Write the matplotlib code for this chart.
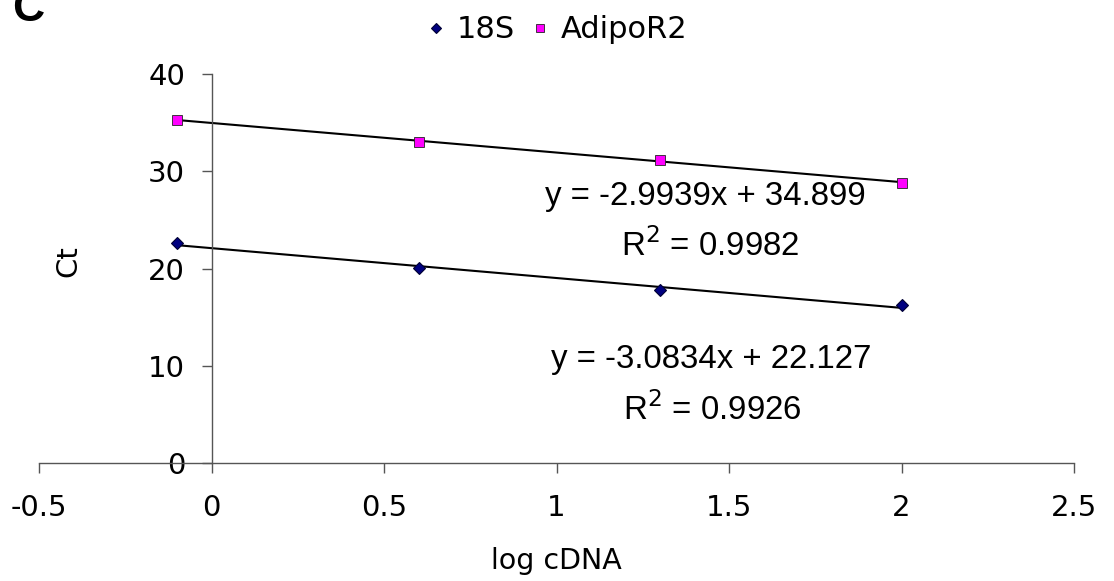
import numpy as np
import matplotlib
matplotlib.use("Agg")
import matplotlib.pyplot as plt

plt.rcParams["font.family"] = ["DejaVu Sans"]

# log cDNA dilution points and Ct values
log_cdna = [-0.1, 0.6, 1.3, 2.0]
ct_18s = [22.6, 20.1, 17.8, 16.2]
ct_adipor2 = [35.3, 33.0, 31.2, 28.8]

eq_18s = "y = -3.0834x + 22.127"
r2_18s = "R$^2$ = 0.9926"
eq_adipo = "y = -2.9939x + 34.899"
r2_adipo = "R$^2$ = 0.9982"

xticks = [-0.5, 0, 0.5, 1, 1.5, 2, 2.5]
xticklabels = ["-0.5", "0", "0.5", "1", "1.5", "2", "2.5"]
yticks = [0, 10, 20, 30, 40]

fig = plt.figure(figsize=(11.14, 5.81), dpi=100)
ax = fig.add_axes([39 / 1114, 118 / 581, 1035 / 1114, 389 / 581])

x = np.array(log_cdna)
for vals in (ct_18s, ct_adipor2):
    slope, icpt = np.polyfit(x, vals, 1)
    ax.plot(x, slope * x + icpt, color="black", lw=1.5, zorder=2)

ax.plot(log_cdna, ct_18s, ls="none", marker="D", ms=6.5, color="#000080",
        mec="#000033", mew=0.8, label="18S", zorder=3)
ax.plot(log_cdna, ct_adipor2, ls="none", marker="s", ms=7, color="#ff00ff",
        mec="#222222", mew=0.6, label="AdipoR2", zorder=3)

ax.set_xlim(-0.5, 2.5)
ax.set_ylim(0, 40)
ax.set_xticks(xticks)
ax.set_xticklabels(xticklabels)
ax.set_yticks(yticks)

for s in ("top", "right"):
    ax.spines[s].set_visible(False)
ax.spines["left"].set_position(("data", 0))
ax.spines["bottom"].set_position(("data", 0))
for s in ("left", "bottom"):
    ax.spines[s].set_color("#555555")
    ax.spines[s].set_linewidth(1.0)

ax.tick_params(axis="x", direction="out", length=7, width=1.0, color="#555555",
               labelsize=21, pad=15)
ax.tick_params(axis="y", direction="out", length=7, width=1.0, color="#555555",
               labelsize=21, pad=12)

ax.set_xlabel("log cDNA", fontsize=20.5)
ax.xaxis.set_label_coords(0.4995, -0.215)
ax.set_ylabel("Ct", fontsize=21)
ax.yaxis.set_label_coords(0.042, 0.52)

eq_font = dict(family="Liberation Sans", fontsize=23.8, ha="center", va="center")
ax.text(1.432, 27.4, eq_adipo, **eq_font)
ax.text(1.445, 22.4, r2_adipo, **eq_font)
ax.text(1.449, 10.6, eq_18s, **eq_font)
ax.text(1.452, 5.5, r2_18s, **eq_font)

fig.legend(loc="center", bbox_to_anchor=(557 / 1114, 1 - 30 / 581), ncol=2,
           frameon=False, fontsize=22, handlelength=0.6, handletextpad=0.4,
           columnspacing=0.5, markerscale=0.8)

fig.text(12 / 1114, 1 - 21 / 581, "C", family="Liberation Sans", weight="bold",
         fontsize=32, va="baseline", ha="left")

fig.savefig("out.png", dpi=100)
